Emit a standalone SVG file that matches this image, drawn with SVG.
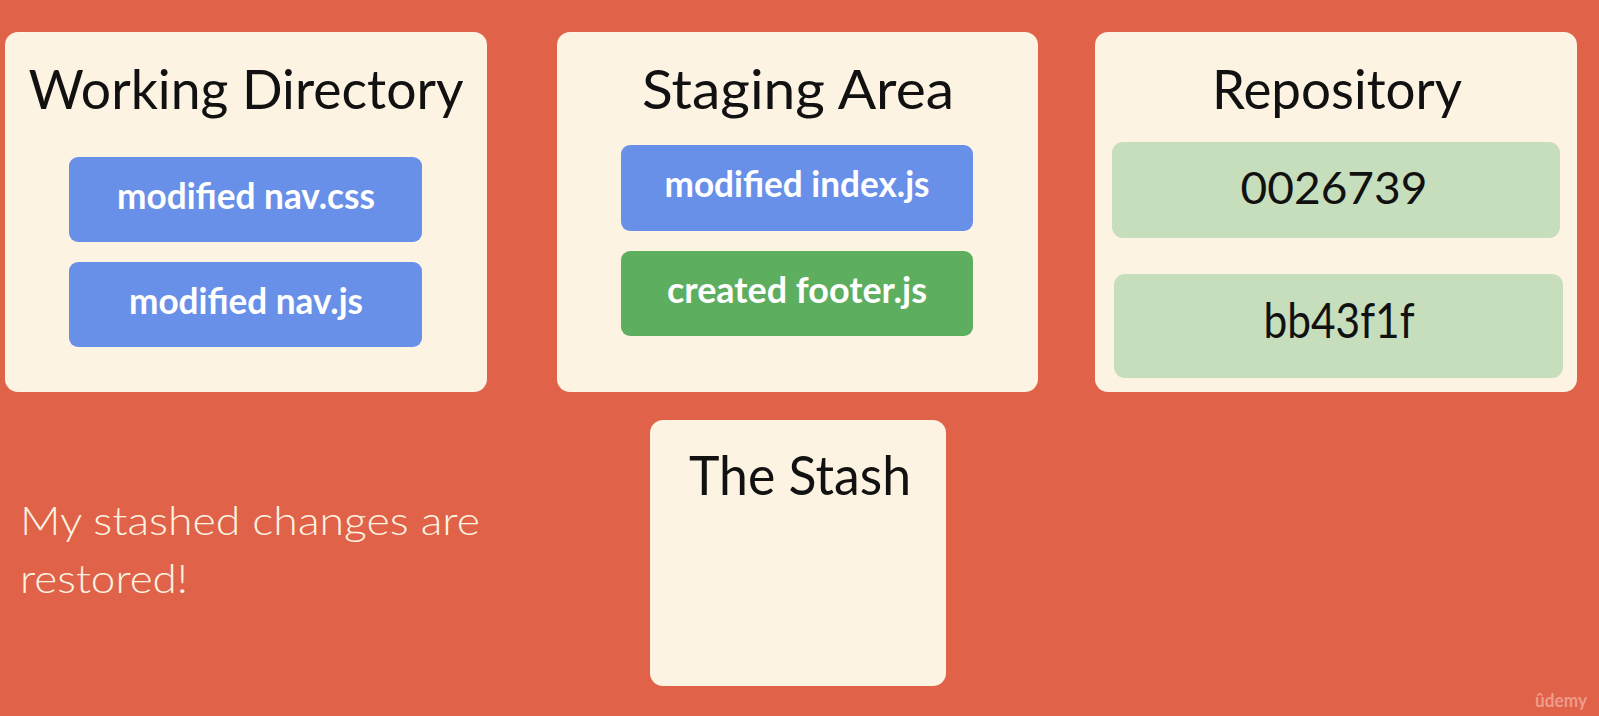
<svg xmlns="http://www.w3.org/2000/svg" width="1599" height="716" viewBox="0 0 1599 716">
<style>
.card{fill:#FCF3E2}
.blue{fill:#6990E8}
.green{fill:#5DAE5E}
.lgreen{fill:#C7DEBC}
.title{font-family:Lato,"Noto Sans",sans-serif;font-size:54px;fill:#111;text-anchor:middle}
.item{font-family:Lato,"Noto Sans",sans-serif;font-size:36px;font-weight:bold;fill:#fff;text-anchor:middle}
.hash{font-family:Lato,"Noto Sans",sans-serif;fill:#111;text-anchor:middle}
.note{font-family:Lato,"Noto Sans",sans-serif;font-weight:300;font-size:40px;fill:#FCF3E2}
</style>
<rect width="1599" height="716" fill="#DF6249"/>
<g id="working-directory">
<rect class="card" x="5" y="32" width="482" height="360" rx="13"/>
<text class="title" x="246" y="109" textLength="435" lengthAdjust="spacingAndGlyphs">Working Directory</text>
<rect class="blue" x="69" y="157" width="353" height="85" rx="9"/>
<text class="item" x="246" y="209" textLength="258" lengthAdjust="spacingAndGlyphs">modified nav.css</text>
<rect class="blue" x="69" y="262" width="353" height="85" rx="9"/>
<text class="item" x="246" y="314" textLength="234" lengthAdjust="spacingAndGlyphs">modified nav.js</text>
</g>
<g id="staging-area">
<rect class="card" x="557" y="32" width="481" height="360" rx="13"/>
<text class="title" x="798" y="109" textLength="312" lengthAdjust="spacingAndGlyphs">Staging Area</text>
<rect class="blue" x="621" y="145" width="352" height="86" rx="9"/>
<text class="item" x="797" y="197" textLength="265" lengthAdjust="spacingAndGlyphs">modified index.js</text>
<rect class="green" x="621" y="251" width="352" height="85" rx="9"/>
<text class="item" x="797" y="303" textLength="260" lengthAdjust="spacingAndGlyphs">created footer.js</text>
</g>
<g id="repository">
<rect class="card" x="1095" y="32" width="482" height="360" rx="13"/>
<text class="title" x="1337" y="109" textLength="250" lengthAdjust="spacingAndGlyphs">Repository</text>
<rect class="lgreen" x="1112" y="142" width="448" height="96" rx="11"/>
<text class="hash" x="1334" y="204" font-size="45" textLength="187" lengthAdjust="spacingAndGlyphs">0026739</text>
<rect class="lgreen" x="1114" y="274" width="449" height="104" rx="11"/>
<text class="hash" x="1339" y="338" font-size="48" textLength="151" lengthAdjust="spacingAndGlyphs">bb43f1f</text>
</g>
<g id="the-stash">
<rect class="card" x="650" y="420" width="296" height="266" rx="13"/>
<text class="title" x="800" y="495" textLength="222" lengthAdjust="spacingAndGlyphs">The Stash</text>
</g>
<g id="note">
<text class="note" x="20" y="535" textLength="460" lengthAdjust="spacingAndGlyphs">My stashed changes are</text>
<text class="note" x="20" y="593" textLength="168" lengthAdjust="spacingAndGlyphs">restored!</text>
</g>
<g id="connectors"/>
<text x="1535" y="707" font-family="Lato,sans-serif" font-size="18" font-weight="bold" fill="#EE9C8A" textLength="52" lengthAdjust="spacingAndGlyphs">ûdemy</text>
</svg>
